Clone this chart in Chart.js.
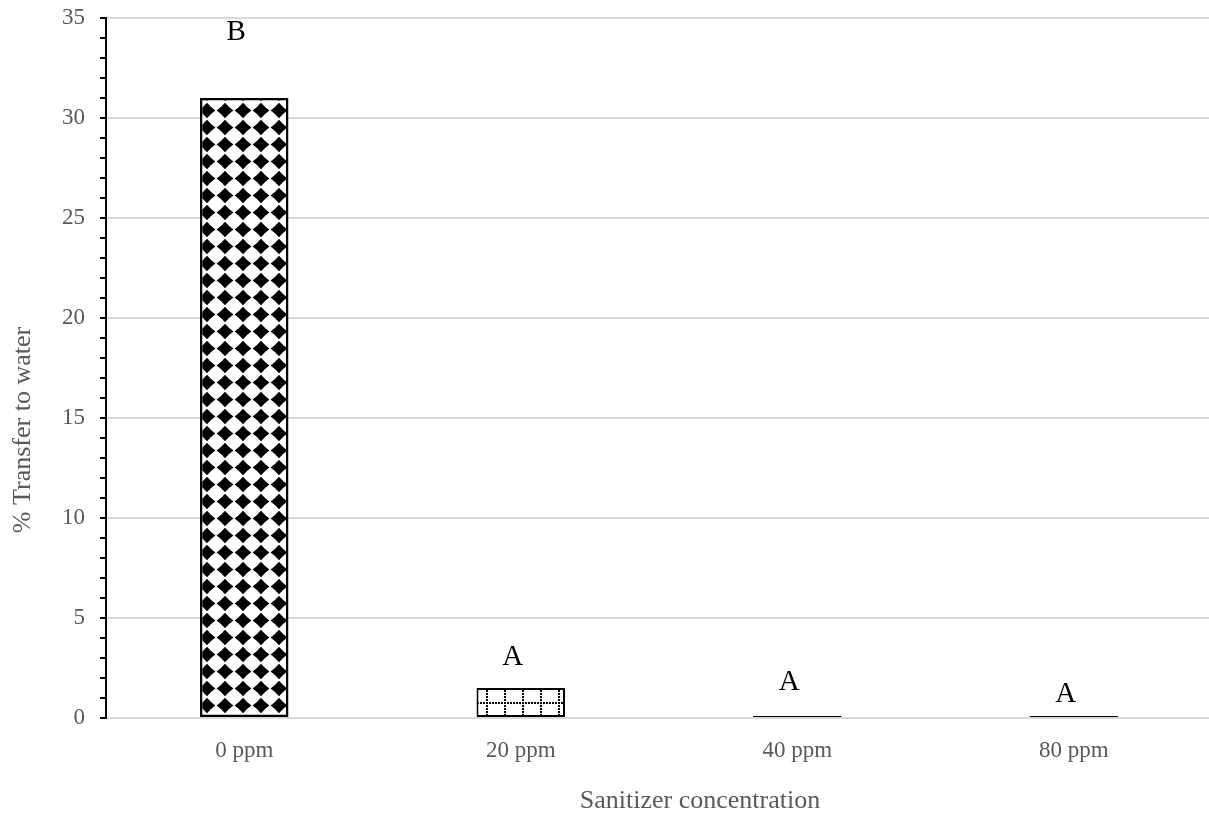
<!DOCTYPE html>
<html>
<head>
<meta charset="utf-8">
<script src="https://cdn.jsdelivr.net/npm/chart.js@4.4.1/dist/chart.umd.min.js"></script>
<style>
  html, body { margin: 0; padding: 0; background: #fff; overflow: hidden; }
  #wrap { width: 1209px; height: 818px; overflow: hidden; }
</style>
</head>
<body>
<div id="wrap"><canvas id="grafica" width="1212" height="818"></canvas></div>
<script>
// datos
const categorias = ['0 ppm', '20 ppm', '40 ppm', '80 ppm'];
const transferencia = [31, 1.5, 0.1, 0.1];
const letras = ['B', 'A', 'A', 'A'];
const alturaLetras = [34.3, 3.05, 1.8, 1.2];
const ticksY = [0, 5, 10, 15, 20, 25, 30, 35];

const fuente = 'Liberation Serif, Times New Roman, serif';
const gris = '#595959';

// patron de diamantes negros (barra 0 ppm)
function patronDiamantes(ctx) {
    const c = document.createElement('canvas');
    c.width = 18; c.height = 17;
    const g = c.getContext('2d');
    g.fillStyle = '#fff';
    g.fillRect(0, 0, 18, 17);
    g.fillStyle = '#000';
    g.beginPath();
    g.moveTo(9, 0.8);
    g.quadraticCurveTo(12.5, 5, 17.4, 8.5);
    g.quadraticCurveTo(12.5, 12, 9, 16.2);
    g.quadraticCurveTo(5.5, 12, 0.6, 8.5);
    g.quadraticCurveTo(5.5, 5, 9, 0.8);
    g.fill();
    return ctx.createPattern(c, 'repeat');
}

// patron de rejilla punteada (barra 20 ppm)
function patronPuntos(ctx) {
    const c = document.createElement('canvas');
    c.width = 18; c.height = 18;
    const g = c.getContext('2d');
    g.fillStyle = '#fff';
    g.fillRect(0, 0, 18, 18);
    g.fillStyle = '#000';
    for (let i = 0; i < 18; i += 3) {
        g.fillRect(i, 0, 2, 2);
        g.fillRect(0, i, 2, 2);
    }
    return ctx.createPattern(c, 'repeat');
}

const canvas = document.getElementById('grafica');
const ctx = canvas.getContext('2d');
const rellenos = [patronDiamantes(ctx), patronPuntos(ctx), '#000', '#000'];

const letrasPlugin = {
    id: 'letras',
    afterDatasetsDraw(chart) {
        const c = chart.ctx;
        const x = chart.scales.x;
        const y = chart.scales.y;
        c.save();
        c.fillStyle = '#000';
        c.font = '29px ' + fuente;
        c.textAlign = 'center';
        c.textBaseline = 'middle';
        letras.forEach((l, i) => {
            c.fillText(l, x.getPixelForValue(i) - 8, y.getPixelForValue(alturaLetras[i]));
        });
        c.restore();
    }
};

const titulosPlugin = {
    id: 'titulos',
    afterDraw(chart) {
        const c = chart.ctx;
        c.save();
        c.fillStyle = gris;
        c.font = '26px ' + fuente;
        c.textAlign = 'center';
        c.textBaseline = 'middle';
        c.fillText('Sanitizer concentration', 700, 801);
        c.translate(23, 430);
        c.rotate(-Math.PI / 2);
        c.fillText('% Transfer to water', 0, 0);
        c.restore();
    }
};

new Chart(ctx, {
    type: 'bar',
    data: {
        labels: categorias,
        datasets: [{
            label: '% Transfer to water',
            data: transferencia,
            backgroundColor: rellenos,
            borderColor: '#000',
            borderWidth: [2.5, 2, 1, 1],
            borderSkipped: false,
            barPercentage: 0.32,
            categoryPercentage: 1
        }]
    },
    options: {
        responsive: false,
        animation: false,
        layout: { padding: { top: 18, left: 0, right: 0, bottom: 0 } },
        plugins: {
            legend: { display: false },
            tooltip: { enabled: false }
        },
        scales: {
            x: {
                afterFit(scale) {
                    scale.height = 100;
                    scale.paddingLeft = 0;
                    scale.paddingRight = 0;
                },
                grid: { display: false, drawTicks: false },
                border: { color: '#d9d9d9', width: 2 },
                ticks: {
                    padding: 19,
                    color: gris,
                    font: { family: fuente, size: 23 }
                }
            },
            y: {
                min: 0,
                max: 35,
                afterFit(scale) {
                    scale.width = 106;
                    scale.paddingTop = 0;
                    scale.paddingBottom = 0;
                },
                afterBuildTicks(scale) {
                    const t = [];
                    for (let v = 0; v <= 35; v++) t.push({ value: v });
                    scale.ticks = t;
                },
                grid: {
                    color: (c) => ticksY.includes(c.tick.value) ? '#d9d9d9' : 'rgba(0,0,0,0)',
                    lineWidth: 2,
                    tickColor: '#000',
                    tickLength: 6,
                    drawTicks: true
                },
                border: { color: '#000', width: 2 },
                ticks: {
                    autoSkip: false,
                    padding: 15,
                    color: gris,
                    font: { family: fuente, size: 23 },
                    callback: (v) => ticksY.includes(v) ? v : ''
                }
            }
        }
    },
    plugins: [letrasPlugin, titulosPlugin]
});
</script>
</body>
</html>
